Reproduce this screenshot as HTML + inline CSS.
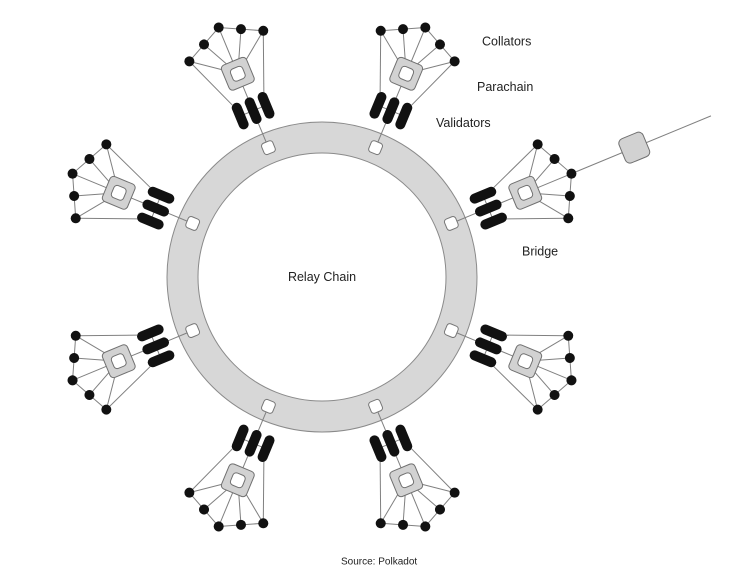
<!DOCTYPE html>
<html>
<head>
<meta charset="utf-8">
<style>
  html, body { margin: 0; padding: 0; background: #fff; }
  svg { display: block; }
  text { font-family: "Liberation Sans", Arial, sans-serif; fill: #222; }
</style>
</head>
<body>
<svg width="740" height="578" viewBox="0 0 740 578" xmlns="http://www.w3.org/2000/svg">
  <defs>
    <g id="unit">
      <!-- connector lines -->
      <g stroke="#808080" stroke-width="1" fill="none">
        <line x1="0" y1="-146" x2="0" y2="-166"/>
        <line x1="-14" y1="-180" x2="14" y2="-180"/>
        <line x1="0" y1="-194" x2="0" y2="-207"/>
        <line x1="0" y1="-220" x2="-40" y2="-250"/>
        <line x1="0" y1="-220" x2="-20" y2="-260"/>
        <line x1="0" y1="-220" x2="0" y2="-270"/>
        <line x1="0" y1="-220" x2="20" y2="-260"/>
        <line x1="0" y1="-220" x2="40" y2="-250"/>
        <polyline points="-40,-250 -20,-260 0,-270 20,-260 40,-250"/>
        <line x1="-40" y1="-250" x2="-17" y2="-193"/>
        <line x1="40" y1="-250" x2="17" y2="-193"/>
      </g>
      <!-- ring slot -->
      <rect x="-6" y="-146" width="12" height="12" rx="3" fill="#fff" stroke="#777" stroke-width="1"/>
      <!-- validators -->
      <rect x="-19" y="-194" width="10" height="28" rx="5" fill="#111"/>
      <rect x="-5" y="-194" width="10" height="28" rx="5" fill="#111"/>
      <rect x="9" y="-194" width="10" height="28" rx="5" fill="#111"/>
      <!-- parachain -->
      <rect x="-13.5" y="-233.5" width="27" height="27" rx="4" fill="#d2d2d2" stroke="#707070" stroke-width="1"/>
      <rect x="-6.5" y="-226.5" width="13" height="13" rx="3.5" fill="#fff" stroke="#707070" stroke-width="1"/>
      <!-- collators -->
      <g fill="#111">
        <circle cx="-40" cy="-250" r="5"/>
        <circle cx="-20" cy="-260" r="5"/>
        <circle cx="0" cy="-270" r="5"/>
        <circle cx="20" cy="-260" r="5"/>
        <circle cx="40" cy="-250" r="5"/>
      </g>
    </g>
  </defs>

  <!-- relay chain ring -->
  <circle cx="322" cy="277" r="155" fill="#d7d7d7" stroke="#8a8a8a" stroke-width="1"/>
  <circle cx="322" cy="277" r="124" fill="#fff" stroke="#8a8a8a" stroke-width="1"/>

  <!-- parachains -->
  <use href="#unit" transform="translate(322,277) rotate(-22.5)"/>
  <use href="#unit" transform="translate(322,277) rotate(22.5)"/>
  <use href="#unit" transform="translate(322,277) rotate(67.5)"/>
  <use href="#unit" transform="translate(322,277) rotate(112.5)"/>
  <use href="#unit" transform="translate(322,277) rotate(157.5)"/>
  <use href="#unit" transform="translate(322,277) rotate(202.5)"/>
  <use href="#unit" transform="translate(322,277) rotate(247.5)"/>
  <use href="#unit" transform="translate(322,277) rotate(292.5)"/>

  <!-- bridge extension -->
  <g transform="translate(322,277) rotate(67.5)">
    <line x1="0" y1="-275" x2="0" y2="-421" stroke="#808080" stroke-width="1"/>
    <rect x="-13" y="-351" width="26" height="26" rx="5" fill="#d2d2d2" stroke="#707070" stroke-width="1"/>
  </g>

  <!-- labels -->
  <text x="322" y="281" font-size="12.5" text-anchor="middle">Relay Chain</text>
  <text x="482" y="45.5" font-size="12.5">Collators</text>
  <text x="477" y="91" font-size="12.5">Parachain</text>
  <text x="436" y="127" font-size="12.5">Validators</text>
  <text x="522" y="255.5" font-size="12.5">Bridge</text>
  <text x="341" y="564.5" font-size="10">Source: Polkadot</text>
</svg>
</body>
</html>
